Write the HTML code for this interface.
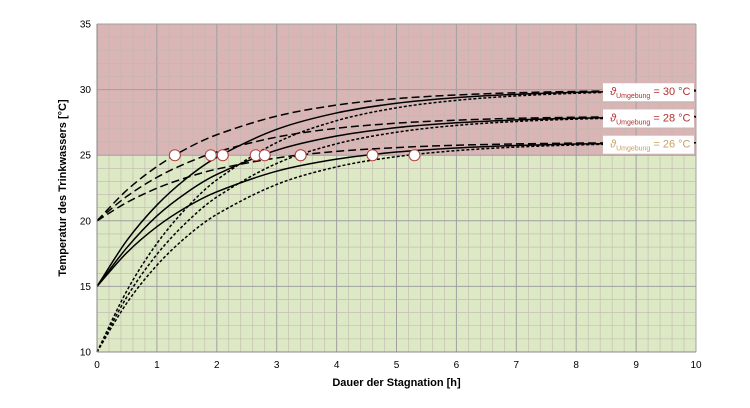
<!DOCTYPE html>
<html><head><meta charset="utf-8">
<style>
body{margin:0;background:#fff;}
svg{display:block;font-family:"Liberation Sans",Arial,sans-serif;}
</style></head>
<body>
<svg id="chart" width="750" height="408" viewBox="0 0 750 408" xmlns="http://www.w3.org/2000/svg">
<g id="bg"></g><g id="grid"></g><g id="curves"></g><g id="markers"></g><g id="axes"></g><g id="labels"></g>
</svg>
<script>
const hours=[0,0.5,1,1.5,2,3,4,5,6,7,8,9,10];
const s30_20=[20,22.34,24.13,25.51,26.56,27.98,28.82,29.31,29.59,29.76,29.86,29.92,29.95];
const s30_15=[15,18.51,21.20,23.26,24.84,26.97,28.22,28.96,29.39,29.64,29.79,29.88,29.93];
const s30_10=[10,14.68,18.27,21.01,23.12,25.96,27.63,28.61,29.18,29.52,29.72,29.84,29.90];
const s28_20=[20,21.87,23.31,24.41,25.25,26.38,27.05,27.44,27.67,27.81,27.89,27.93,27.96];
const s28_15=[15,17.96,20.37,22.16,23.53,25.38,26.46,27.10,27.47,27.69,27.82,27.89,27.94];
const s28_10=[10,14.21,17.44,19.91,21.81,24.37,25.87,26.75,27.27,27.57,27.75,27.85,27.91];
const s26_20=[20,21.40,22.48,23.30,23.94,24.79,25.29,25.58,25.76,25.86,25.92,25.95,25.97];
const s26_15=[15,17.58,19.55,21.06,22.21,23.78,24.70,25.24,25.55,25.74,25.85,25.91,25.95];
const s26_10=[10,13.75,16.61,18.81,20.49,22.77,24.11,24.89,25.35,25.62,25.78,25.87,25.92];
const crossTimes=[1.3,1.9,2.1,2.65,2.8,3.4,3.4,4.6,5.3];
const xTicks=[0,1,2,3,4,5,6,7,8,9,10];
const yTicks=[10,15,20,25,30,35];
const ambientLabels=[30,28,26];
const limitTemp=25;

const NS="http://www.w3.org/2000/svg";
const X0=97,X1=696,Y0=352,Y1=24;
const xs=v=>X0+(v-0)/(10-0)*(X1-X0);
const ys=v=>Y0-(v-10)/(35-10)*(Y0-Y1);
function mk(tag,attrs,parent){const e=document.createElementNS(NS,tag);for(const k in attrs)e.setAttribute(k,attrs[k]);document.getElementById(parent).appendChild(e);return e;}

let r=mk('rect',{x:X0,y:Y1,width:X1-X0,height:ys(limitTemp)-Y1,fill:'#d9b5b5'},'bg');


r=mk('rect',{x:X0,y:ys(limitTemp),width:X1-X0,height:Y0-ys(limitTemp),fill:'#dde9c4'},'bg');



for(let v=0;v<=10.001;v+=0.2){const maj=Math.abs(v-Math.round(v))<0.01;const l=mk('line',{x1:xs(v),x2:xs(v),y1:Y1,y2:Y0,stroke:maj?'#a0a0a0':'#c0b8b0','stroke-width':maj?1:0.6},'grid');

}
for(let v=10;v<=35;v+=1){const l=mk('line',{x1:X0,x2:X1,y1:ys(v),y2:ys(v),stroke:v%5===0?'#a0a0a0':'#c0b8b0','stroke-width':v%5===0?1:0.6},'grid');

}

function pathFor(vals){
  const p=hours.map((h,i)=>[xs(h),ys(vals[i])]);
  let d='M'+p[0][0]+','+p[0][1];
  for(let i=0;i<p.length-1;i++){
    const p0=p[Math.max(0,i-1)],p1=p[i],p2=p[i+1],p3=p[Math.min(p.length-1,i+2)];
    const h=p2[0]-p1[0];
    const m1=(p2[1]-p0[1])/(p2[0]-p0[0]||1), m2=(p3[1]-p1[1])/(p3[0]-p1[0]||1);
    const c1=[p1[0]+h/3,p1[1]+m1*h/3];
    const c2=[p2[0]-h/3,p2[1]-m2*h/3];
    d+=` C${c1[0]},${c1[1]} ${c2[0]},${c2[1]} ${p2[0]},${p2[1]}`;
  }
  return d;
}
const series=[[s30_20,'8,4','curve-30-start20'],[s30_15,'','curve-30-start15'],[s30_10,'3,2','curve-30-start10'],
[s28_20,'8,4','curve-28-start20'],[s28_15,'','curve-28-start15'],[s28_10,'3,2','curve-28-start10'],
[s26_20,'8,4','curve-26-start20'],[s26_15,'','curve-26-start15'],[s26_10,'3,2','curve-26-start10']];
series.forEach(s=>{const p=mk('path',{d:pathFor(s[0]),fill:'none',stroke:'#000','stroke-width':1.5,'stroke-dasharray':s[1]},'curves');

});

crossTimes.forEach(t=>{const c=mk('circle',{cx:xs(t),cy:ys(limitTemp),r:5.5,fill:'#fff',stroke:'#b04040','stroke-width':1},'markers');

});

let a=mk('line',{x1:X0,x2:X0,y1:Y1,y2:Y0,stroke:'#888','stroke-width':1},'axes');

a=mk('line',{x1:X0,x2:X1,y1:Y0,y2:Y0,stroke:'#888','stroke-width':1},'axes');

xTicks.forEach(v=>{const t=mk('text',{x:xs(v),y:Y0+16,'font-size':10,'text-anchor':'middle',fill:'#000'},'axes');t.textContent=v;

});
yTicks.forEach(v=>{const t=mk('text',{x:X0-6,y:ys(v)+3.5,'font-size':10,'text-anchor':'end',fill:'#000'},'axes');t.textContent=v;

});
let t=mk('text',{x:(X0+X1)/2,y:386,'font-size':11,'font-weight':'bold','text-anchor':'middle'},'axes');t.textContent='Dauer der Stagnation [h]';

t=mk('text',{x:0,y:0,'font-size':11,'font-weight':'bold','text-anchor':'middle',transform:`translate(66,${(Y0+Y1)/2}) rotate(-90)`},'axes');t.textContent='Temperatur des Trinkwassers [°C]';


ambientLabels.forEach(v=>{
  const y=ys(v-0.2);
  const b=mk('rect',{x:603,y:y-9,width:91,height:18,fill:'#fff'},'labels');
  
  
  const col=v===26?'#c8a060':'#b03030';
  const tx=mk('text',{x:610,y:y+3,'font-size':11,fill:col},'labels');
  
  
  tx.innerHTML=`<tspan font-style="italic">ϑ</tspan><tspan font-size="7" dy="3">Umgebung</tspan><tspan dy="-3"> = ${v} °C</tspan>`;
});
</script>
</body></html>
